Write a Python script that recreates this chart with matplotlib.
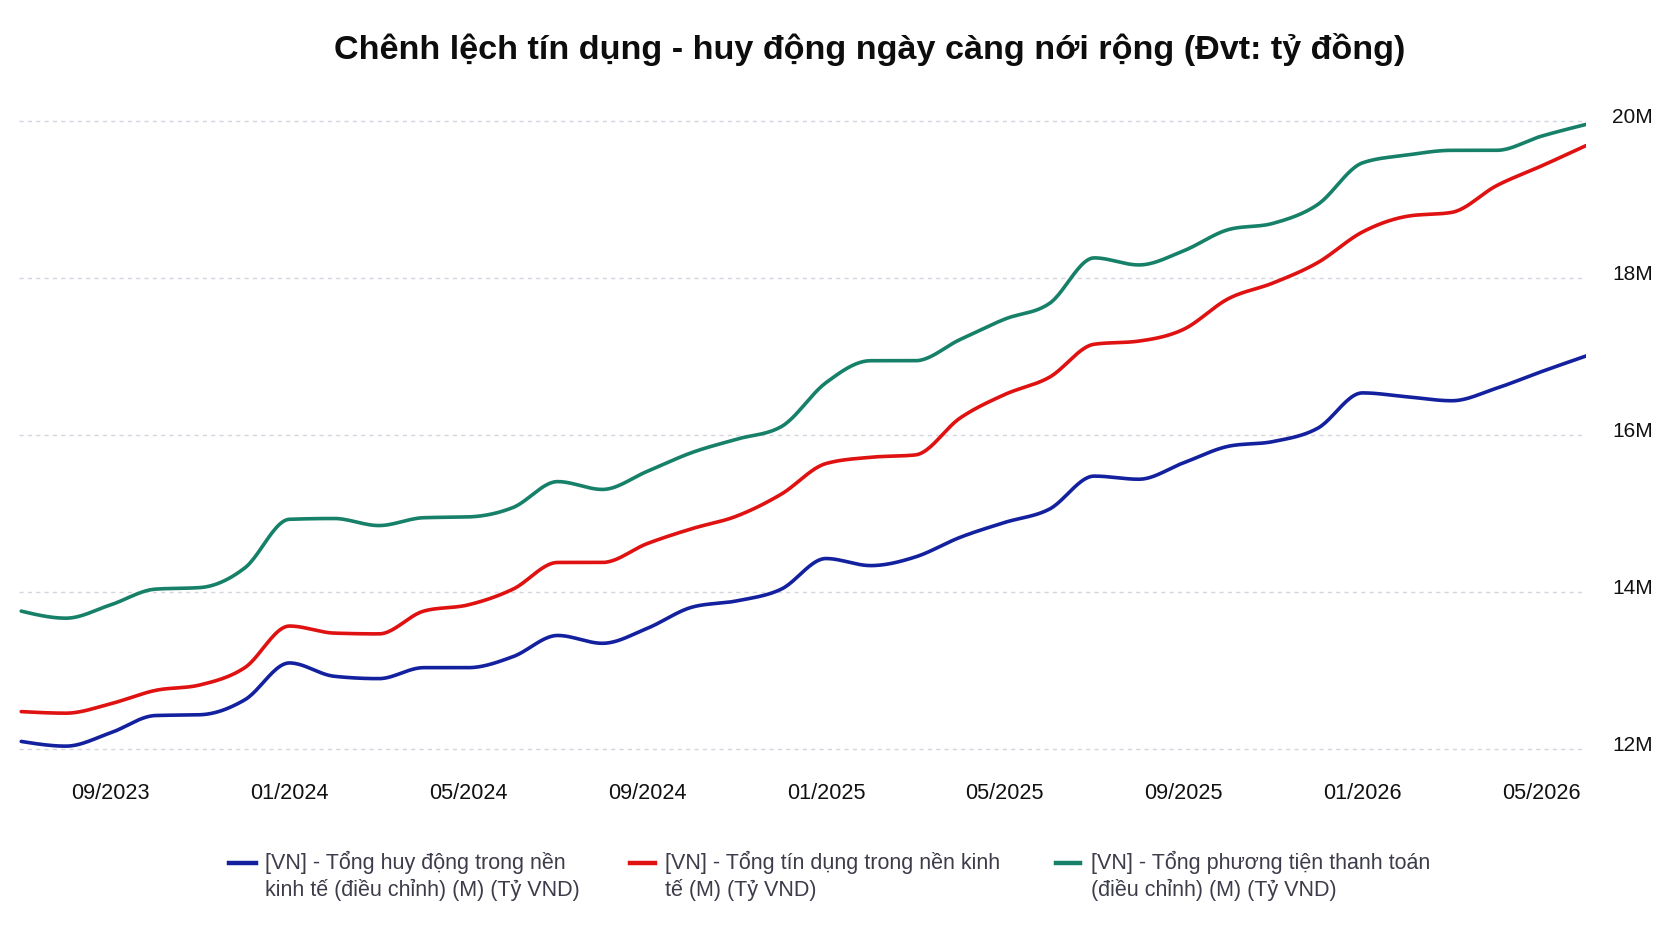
import numpy as np
import pandas as pd
import matplotlib
matplotlib.use("Agg")
import matplotlib.pyplot as plt
from matplotlib.lines import Line2D
from matplotlib.transforms import ScaledTranslation

plt.rcParams['font.family'] = ['Liberation Sans', 'DejaVu Sans']

# monthly series, 07/2023 .. 06/2026 (million ty VND)
months = pd.date_range('2023-07-01', periods=36, freq='MS')

huy_dong = [12.09, 12.03, 12.20, 12.42, 12.43, 12.62, 13.09, 12.92, 12.89, 13.03,
            13.03, 13.17, 13.44, 13.34, 13.53, 13.80, 13.88, 14.03, 14.42, 14.33,
            14.44, 14.69, 14.88, 15.05, 15.47, 15.43, 15.64, 15.85, 15.91, 16.08,
            16.53, 16.48, 16.43, 16.59, 16.80, 17.00]

tin_dung = [12.47, 12.45, 12.57, 12.74, 12.81, 13.03, 13.56, 13.47, 13.46, 13.75,
            13.83, 14.03, 14.37, 14.37, 14.61, 14.80, 14.96, 15.24, 15.63, 15.71,
            15.74, 16.21, 16.51, 16.73, 17.15, 17.19, 17.34, 17.73, 17.93, 18.19,
            18.58, 18.78, 18.83, 19.17, 19.42, 19.68]

phuong_tien = [13.75, 13.66, 13.83, 14.03, 14.05, 14.30, 14.92, 14.93, 14.84, 14.94,
               14.95, 15.07, 15.40, 15.30, 15.53, 15.77, 15.94, 16.10, 16.66, 16.94,
               16.94, 17.21, 17.47, 17.67, 18.25, 18.16, 18.34, 18.61, 18.69, 18.93,
               19.46, 19.56, 19.62, 19.62, 19.80, 19.95]

labels = ['[VN] - Tổng huy động trong nền\nkinh tế (điều chỉnh) (M) (Tỷ VND)',
          '[VN] - Tổng tín dụng trong nền kinh\ntế (M) (Tỷ VND)',
          '[VN] - Tổng phương tiện thanh toán\n(điều chỉnh) (M) (Tỷ VND)']
colors = ['#14219f', '#df1111', '#168068']
yticks = [12, 14, 16, 18, 20]


def monotone(x, y, n=24):
    # monotone cubic (Fritsch-Carlson style) for a smooth line without overshoot
    x = np.asarray(x, float)
    y = np.asarray(y, float)
    h = np.diff(x)
    s = np.diff(y) / h
    m = np.zeros_like(y)
    for k in range(1, len(y) - 1):
        if s[k - 1] * s[k] <= 0:
            m[k] = 0
        else:
            p = (s[k - 1] * h[k] + s[k] * h[k - 1]) / (h[k - 1] + h[k])
            m[k] = np.sign(s[k]) * min(abs(s[k - 1]), abs(s[k]), 0.5 * abs(p)) * 2
    m[0] = (3 * s[0] - m[1]) / 2
    m[-1] = (3 * s[-1] - m[-2]) / 2
    xs, ys = [], []
    for k in range(len(h)):
        t = np.linspace(0, 1, n, endpoint=(k == len(h) - 1))
        h00 = 2 * t**3 - 3 * t**2 + 1
        h10 = t**3 - 2 * t**2 + t
        h01 = -2 * t**3 + 3 * t**2
        h11 = t**3 - t**2
        xs.append(x[k] + t * h[k])
        ys.append(h00 * y[k] + h10 * h[k] * m[k] + h01 * y[k + 1] + h11 * h[k] * m[k + 1])
    return np.concatenate(xs), np.concatenate(ys)


W, H = 1672, 941
fig = plt.figure(figsize=(W / 100, H / 100), dpi=100)
fig.patch.set_facecolor('white')

# axes placement in pixels
left, right = 19, 1586
ylo, yhi = 11.7, 20.3
px_per_m = 78.5
bottom_px = 748.5 + (12 - ylo) * px_per_m
top_px = 120.5 - (yhi - 20) * px_per_m
ax = fig.add_axes([left / W, 1 - bottom_px / H, (right - left) / W, (bottom_px - top_px) / H])

xi = np.arange(len(months))
for series, c in zip([huy_dong, tin_dung, phuong_tien], colors):
    sx, sy = monotone(xi, series)
    ax.plot(sx, sy, color=c, lw=2.6, solid_capstyle='round', zorder=3)

ax.set_xlim(-0.05, len(months) - 1)
ax.set_ylim(ylo, yhi)

tick_idx = [i for i, d in enumerate(months) if d.month in (1, 5, 9)]
ax.set_xticks(tick_idx)
ax.set_xticklabels([months[i].strftime('%m/%Y') for i in tick_idx], fontsize=15.6, color='#111111')
ax.set_yticks(yticks)
ax.set_yticklabels([f'{v}M' for v in yticks], fontsize=15, color='#111111')
ax.yaxis.tick_right()
ax.tick_params(axis='both', length=0)
ax.tick_params(axis='x', pad=8)
ax.tick_params(axis='y', pad=19)
for lbl in ax.get_yticklabels():
    lbl.set_horizontalalignment('left')
    lbl.set_transform(lbl.get_transform() + ScaledTranslation(0, 5 / 100, fig.dpi_scale_trans))

ax.grid(axis='y', color='#d3d6de', lw=1, linestyle=(0, (3, 3)))
ax.grid(axis='x', visible=False)
for sp in ax.spines.values():
    sp.set_visible(False)

fig.text(870 / W, 1 - 59 / H, 'Chênh lệch tín dụng - huy động ngày càng nới rộng (Đvt: tỷ đồng)',
         ha='center', va='baseline', fontsize=24.6, fontweight='bold', color='#0d0d0d')

# legend, laid out by hand with two-line labels
leg_x = [(229, 256, 265), (630, 655, 665), (1056, 1080, 1091)]
for (h0, h1, tx), lab, c in zip(leg_x, labels, colors):
    fig.add_artist(Line2D([h0 / W, h1 / W], [1 - 863 / H, 1 - 863 / H], color=c, lw=3.2,
                          transform=fig.transFigure))
    for j, line in enumerate(lab.split('\n')):
        fig.text(tx / W, 1 - (869 + 27 * j) / H, line, ha='left', va='baseline',
                 fontsize=15.5, color='#3c3c4a')

fig.savefig('out.png', dpi=100, facecolor='white')
